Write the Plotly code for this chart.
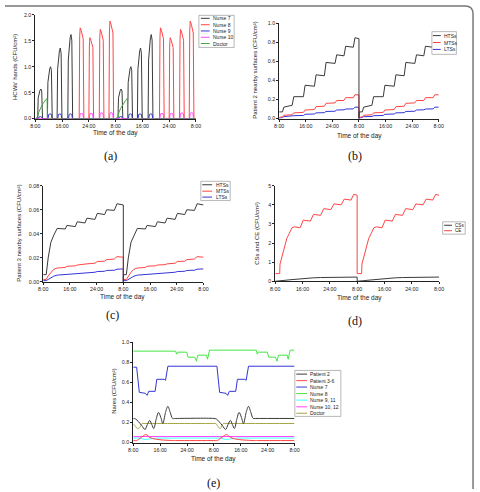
import plotly.graph_objects as go

W, H = 480, 492
TICK_VALS = [0, 8, 16, 24, 32, 40, 48]
TICK_TEXT = ["8:00", "16:00", "24:00", "8:00", "16:00", "24:00", "8:00"]

# ---------------- (a) HCWs' hands ----------------
A_N7_T = [0, 0.7, 0.85, 1.1, 1.4, 1.65, 1.9, 2.15, 3.6, 3.75, 4.0, 4.3, 4.55, 4.8, 5.05,
          6.5, 6.65, 6.9, 7.2, 7.45, 7.7, 7.95, 9.7, 9.85, 10.1, 10.4, 10.65, 10.9, 11.15,
          24.7, 24.85, 25.1, 25.4, 25.65, 25.9, 26.15, 27.6, 27.75, 28.0, 28.3, 28.55, 28.8, 29.05,
          30.5, 30.65, 30.9, 31.2, 31.45, 31.7, 31.95, 33.7, 33.85, 34.1, 34.4, 34.65, 34.9, 35.15, 48]
A_N7_V = [0, 0, 0.40, 0.50, 0.55, 0.57, 0.53, 0, 0, 0.70, 0.88, 0.96, 1.00, 0.93, 0,
          0, 0.95, 1.20, 1.31, 1.36, 1.26, 0, 0, 1.13, 1.43, 1.56, 1.62, 1.51, 0,
          0, 0.40, 0.50, 0.55, 0.57, 0.53, 0, 0, 0.70, 0.88, 0.96, 1.00, 0.93, 0,
          0, 0.95, 1.20, 1.31, 1.36, 1.26, 0, 0, 1.13, 1.43, 1.56, 1.62, 1.51, 0, 0]
A_N8_T = [0, 13.1, 13.25, 13.4, 13.7, 14.0, 14.3, 14.5, 16.0, 16.15, 16.3, 16.6, 16.9, 17.2, 17.4,
          19.1, 19.25, 19.4, 19.7, 20.0, 20.3, 20.5, 22.0, 22.15, 22.3, 22.6, 22.9, 23.2, 23.4,
          37.1, 37.25, 37.4, 37.7, 38.0, 38.3, 38.5, 40.0, 40.15, 40.3, 40.6, 40.9, 41.2, 41.4,
          43.1, 43.25, 43.4, 43.7, 44.0, 44.3, 44.5, 46.0, 46.15, 46.3, 46.6, 46.9, 47.2, 47.4, 48]
A_N8_V = [0, 0, 1.58, 1.75, 1.70, 1.63, 1.54, 0, 0, 1.40, 1.56, 1.51, 1.45, 1.37, 0,
          0, 1.55, 1.72, 1.67, 1.60, 1.51, 0, 0, 1.69, 1.88, 1.82, 1.75, 1.65, 0,
          0, 1.58, 1.75, 1.70, 1.63, 1.54, 0, 0, 1.40, 1.56, 1.51, 1.45, 1.37, 0,
          0, 1.55, 1.72, 1.67, 1.60, 1.51, 0, 0, 1.69, 1.88, 1.82, 1.75, 1.65, 0, 0]
A_N9_T = [0, 0.9, 1.1, 1.5, 1.9, 2.1, 3.8, 4.0, 4.4, 4.8, 5.0, 6.7, 6.9, 7.3, 7.7, 7.9,
          9.9, 10.1, 10.5, 10.9, 11.1, 24.9, 25.1, 25.5, 25.9, 26.1, 27.8, 28.0, 28.4, 28.8, 29.0,
          30.7, 30.9, 31.3, 31.7, 31.9, 33.9, 34.1, 34.5, 34.9, 35.1, 48]
A_N9_V = [0, 0, 0.03, 0.04, 0.03, 0, 0, 0.08, 0.09, 0.08, 0, 0, 0.08, 0.09, 0.08, 0,
          0, 0.08, 0.09, 0.08, 0, 0, 0.03, 0.04, 0.03, 0, 0, 0.08, 0.09, 0.08, 0,
          0, 0.08, 0.09, 0.08, 0, 0, 0.08, 0.09, 0.08, 0, 0]
A_N10_T = [0, 13.2, 13.4, 13.8, 14.2, 14.4, 16.1, 16.3, 16.7, 17.1, 17.3, 19.2, 19.4, 19.8, 20.2, 20.4,
           22.1, 22.3, 22.7, 23.1, 23.3, 37.2, 37.4, 37.8, 38.2, 38.4, 40.1, 40.3, 40.7, 41.1, 41.3,
           43.2, 43.4, 43.8, 44.2, 44.4, 46.1, 46.3, 46.7, 47.1, 47.3, 48]
A_N10_V = [0, 0, 0.09, 0.10, 0.09, 0, 0, 0.09, 0.10, 0.09, 0, 0, 0.10, 0.11, 0.10, 0,
           0, 0.10, 0.12, 0.10, 0, 0, 0.09, 0.10, 0.09, 0, 0, 0.09, 0.10, 0.09, 0,
           0, 0.10, 0.11, 0.10, 0, 0, 0.10, 0.12, 0.10, 0, 0]
A_DOC_T = [0, 0.7, 1.0, 1.5, 2.0, 2.5, 3.0, 3.5, 3.6, 24, 24.7, 25.0, 25.5, 26.0, 26.5, 27.0, 27.5, 27.6, 48]
A_DOC_V = [0, 0.03, 0.12, 0.20, 0.26, 0.31, 0.35, 0.39, 0, 0, 0.03, 0.12, 0.20, 0.26, 0.31, 0.35, 0.39, 0, 0]
A_NAMES = ["Nurse 7", "Nurse 8", "Nurse 9", "Nurse 10", "Doctor"]

# ---------------- (b) Patient 2 nearby surfaces ----------------
B_T = [0, 1.0, 1.4, 3.9, 4.4, 7.3, 7.8, 10.6, 11.1, 13.6, 14.1, 16.8, 17.3, 19.5, 20.0, 22.3, 22.8, 24.0,
       24.0, 24.05, 25.0, 25.4, 27.9, 28.4, 31.3, 31.8, 34.6, 35.1, 37.6, 38.1, 40.8, 41.3, 43.5, 44.0,
       46.3, 46.8, 48.0]
B_HTS = [0.07, 0.07, 0.12, 0.14, 0.23, 0.23, 0.35, 0.34, 0.46, 0.45, 0.59, 0.58, 0.67, 0.66, 0.76, 0.75, 0.85, 0.84,
         0.0, 0.07, 0.07, 0.12, 0.14, 0.23, 0.23, 0.35, 0.34, 0.46, 0.45, 0.59, 0.58, 0.67, 0.66, 0.76, 0.75, 0.85, 0.84]
B_MTS = [0.01, 0.02, 0.035, 0.04, 0.06, 0.065, 0.09, 0.095, 0.125, 0.13, 0.16, 0.165, 0.19, 0.19, 0.22, 0.22, 0.25, 0.25,
         0.0, 0.01, 0.02, 0.035, 0.04, 0.06, 0.065, 0.09, 0.095, 0.125, 0.13, 0.16, 0.165, 0.19, 0.19, 0.22, 0.22, 0.25, 0.25]
B_LTS = [0.005, 0.01, 0.02, 0.022, 0.03, 0.033, 0.045, 0.048, 0.06, 0.062, 0.075, 0.077, 0.09, 0.092, 0.10, 0.102, 0.12, 0.12,
         0.0, 0.005, 0.01, 0.02, 0.022, 0.03, 0.033, 0.045, 0.048, 0.06, 0.062, 0.075, 0.077, 0.09, 0.092, 0.10, 0.102, 0.12, 0.12]
SURF_NAMES = ["HTSs", "MTSs", "LTSs"]

# ---------------- (c) Patient 3 nearby surfaces ----------------
C_T = [0, 0.9, 1.5, 2.3, 3.2, 4.2, 6.6, 7.1, 9.6, 10.2, 12.5, 13.1, 15.5, 16.2, 18.4, 19.0, 21.3, 22.1, 24.0,
       24.0, 24.05, 24.9, 25.5, 26.3, 27.2, 28.2, 30.6, 31.1, 33.6, 34.2, 36.5, 37.1, 39.5, 40.2, 42.4, 43.0,
       45.3, 46.1, 48.0]
C_HTS = [0.006, 0.006, 0.02, 0.033, 0.039, 0.0445, 0.044, 0.047, 0.046, 0.050, 0.049, 0.053, 0.052, 0.057, 0.056,
         0.060, 0.0595, 0.065, 0.064,
         0.0, 0.006, 0.006, 0.02, 0.033, 0.039, 0.0445, 0.044, 0.047, 0.046, 0.050, 0.049, 0.053, 0.052, 0.057, 0.056,
         0.060, 0.0595, 0.065, 0.064]
C_MTS = [0.002, 0.002, 0.005, 0.008, 0.0105, 0.0115, 0.012, 0.013, 0.0133, 0.014, 0.0143, 0.015, 0.0155, 0.017,
         0.0172, 0.0185, 0.019, 0.021, 0.0205,
         0.0, 0.002, 0.002, 0.005, 0.008, 0.0105, 0.0115, 0.012, 0.013, 0.0133, 0.014, 0.0143, 0.015, 0.0155, 0.017,
         0.0172, 0.0185, 0.019, 0.021, 0.0205]
C_LTS = [0.001, 0.001, 0.002, 0.0035, 0.0048, 0.0056, 0.006, 0.0064, 0.0067, 0.007, 0.0073, 0.0077, 0.008, 0.0086,
         0.0088, 0.0095, 0.0097, 0.0105, 0.0108,
         0.0, 0.001, 0.001, 0.002, 0.0035, 0.0048, 0.0056, 0.006, 0.0064, 0.0067, 0.007, 0.0073, 0.0077, 0.008, 0.0086,
         0.0088, 0.0095, 0.0097, 0.0105, 0.0108]

# ---------------- (d) CSs and CE ----------------
D_T = [0, 1.3, 1.4, 2.0, 2.6, 3.4, 4.1, 4.9, 5.6, 7.3, 8.2, 10.3, 11.2, 13.3, 14.2, 16.3, 17.2, 19.3, 20.2, 22.2, 23.0, 24.0,
       24.0, 24.05, 25.3, 25.4, 26.0, 26.6, 27.4, 28.1, 28.9, 29.6, 31.3, 32.2, 34.3, 35.2, 37.3, 38.2, 40.3, 41.2,
       43.3, 44.2, 46.2, 47.0, 48.0]
D_CE = [0.4, 0.4, 0.9, 1.35, 1.8, 2.25, 2.5, 2.8, 2.85, 2.8, 3.2, 3.15, 3.5, 3.45, 3.8, 3.75, 4.05, 4.0, 4.3, 4.25, 4.55, 4.5,
        0.4, 0.4, 0.4, 0.9, 1.35, 1.8, 2.25, 2.5, 2.8, 2.85, 2.8, 3.2, 3.15, 3.5, 3.45, 3.8, 3.75, 4.05, 4.0, 4.3, 4.25,
        4.55, 4.5]
D_CS = [0.0, 0.01, 0.015, 0.03, 0.045, 0.06, 0.075, 0.09, 0.1, 0.13, 0.145, 0.17, 0.18, 0.195, 0.2, 0.205, 0.21, 0.215,
        0.215, 0.22, 0.22, 0.22,
        0.0, 0.0, 0.01, 0.015, 0.03, 0.045, 0.06, 0.075, 0.09, 0.1, 0.13, 0.145, 0.17, 0.18, 0.195, 0.2, 0.205, 0.21,
        0.215, 0.215, 0.22, 0.22, 0.22]
D_NAMES = ["CSs", "CE"]

# ---------------- (e) Nares ----------------
E_P2_T = [0, 0.7, 1.5, 2.5, 3.5, 4.2, 4.9, 5.5, 6.1, 6.8, 7.5, 8.2, 8.8, 9.6, 10.3, 11.0, 11.7, 12.3, 24.0,
          24.7, 25.5, 26.5, 27.5, 28.2, 28.9, 29.5, 30.1, 30.8, 31.5, 32.2, 32.8, 33.6, 34.3, 35.0, 35.7, 36.3, 48]
E_P2_V = [0.24, 0.235, 0.21, 0.17, 0.13, 0.18, 0.22, 0.18, 0.14, 0.23, 0.30, 0.25, 0.19, 0.30, 0.36, 0.30, 0.24, 0.24,
          0.24, 0.235, 0.21, 0.17, 0.13, 0.18, 0.22, 0.18, 0.14, 0.23, 0.30, 0.25, 0.19, 0.30, 0.36, 0.30, 0.24, 0.24, 0.24]
E_P36_T = [0, 1.0, 1.5, 2.7, 3.8, 5.0, 6.5, 9.0, 12.0, 13.0, 24.0, 25.0, 25.5, 26.7, 27.8, 29.0, 30.5, 33.0, 36.0, 37.0, 48]
E_P36_V = [0.02, 0.02, 0.03, 0.06, 0.08, 0.05, 0.035, 0.025, 0.02, 0.02, 0.02, 0.02, 0.03, 0.06, 0.08, 0.05, 0.035,
           0.025, 0.02, 0.02, 0.02]
E_N7_T = [0, 1.0, 1.8, 3.6, 4.1, 4.6, 6.5, 7.0, 9.2, 9.6, 10.3, 24.9, 25.7, 27.6, 28.1, 28.6, 30.5, 31.0, 33.2, 33.6, 34.3, 48]
E_N7_V = [0.75, 0.75, 0.50, 0.49, 0.47, 0.51, 0.51, 0.63, 0.63, 0.62, 0.76, 0.76, 0.50, 0.49, 0.47, 0.51, 0.51, 0.63,
          0.63, 0.62, 0.76, 0.76]
E_N8_T = [0, 12.6, 12.9, 13.2, 15.9, 16.3, 18.3, 18.8, 19.2, 21.8, 22.1, 22.7, 36.6, 36.9, 37.2, 39.9, 40.3, 42.3,
          42.8, 43.2, 45.8, 46.1, 46.7, 48]
E_N8_V = [0.91, 0.91, 0.88, 0.90, 0.90, 0.85, 0.85, 0.81, 0.87, 0.87, 0.83, 0.92, 0.92, 0.88, 0.90, 0.90, 0.85, 0.85,
          0.81, 0.87, 0.87, 0.83, 0.92, 0.92]
E_N911_T = [0, 2.0, 3.5, 5.5, 7.0, 24.0, 26.0, 27.5, 29.5, 31.0, 48]
E_N911_V = [0.045, 0.045, 0.03, 0.035, 0.045, 0.045, 0.045, 0.03, 0.035, 0.045, 0.045]
E_N1012_T = [0, 48]
E_N1012_V = [0.06, 0.06]
E_DOC_T = [0, 0.5, 1.2, 1.9, 2.6, 3.2, 24.0, 24.6, 25.2, 25.9, 26.8, 27.4, 48]
E_DOC_V = [0.18, 0.17, 0.14, 0.15, 0.19, 0.19, 0.19, 0.19, 0.16, 0.14, 0.19, 0.19, 0.19]
E_NAMES = ["Patient 2", "Patient 3-6", "Nurse 7", "Nurse 8", "Nurse 9, 11", "Nurse 10, 12", "Doctor"]

# ---------------- styling ----------------
C_BLK, C_RED, C_BLU, C_MAG, C_GRN = "#3a3a3a", "#ff4545", "#3535d5", "#ff45ff", "#45a545"
C_LGRN, C_CYN, C_OLV = "#45e545", "#45ffff", "#a5a545"
SANS = "Liberation Sans, Arial, sans-serif"
SERIF = "Liberation Serif, Times New Roman, serif"


def fx(px):
    return px / W


def fy(py):
    return 1 - py / H


# panel pixel boxes: (left, right, top, bottom)
PANELS = {
    "a": dict(box=(31, 195, 12, 117), yr=[0, 2.0], dtick=0.5, fmt=".1f"),
    "b": dict(box=(280, 443, 20.7, 117), yr=[0, 1.0], dtick=0.2, fmt=".1f"),
    "c": dict(box=(39, 202.7, 185, 282.3), yr=[0, 0.08], dtick=0.02, fmt=".2f"),
    "d": dict(box=(276, 443.3, 185, 281.7), yr=[0, 5], dtick=1, fmt="d"),
    "e": dict(box=(131, 295.7, 343.3, 445), yr=[0, 1.0], dtick=0.2, fmt=".1f"),
}
AX = {"a": ("x", "y", "xaxis", "yaxis"), "b": ("x2", "y2", "xaxis2", "yaxis2"),
      "c": ("x3", "y3", "xaxis3", "yaxis3"), "d": ("x4", "y4", "xaxis4", "yaxis4"),
      "e": ("x5", "y5", "xaxis5", "yaxis5")}

fig = go.Figure()


def add(p, t, v, color, name, shape="linear"):
    xa, ya, _, _ = AX[p]
    fig.add_trace(go.Scatter(x=t, y=v, mode="lines", name=name, xaxis=xa, yaxis=ya,
                             line=dict(color=color, width=1, shape=shape), showlegend=False,
                             hoverinfo="skip"))


add("a", A_N7_T, A_N7_V, C_BLK, A_NAMES[0])
add("a", A_N8_T, A_N8_V, C_RED, A_NAMES[1])
add("a", A_N9_T, A_N9_V, C_BLU, A_NAMES[2])
add("a", A_N10_T, A_N10_V, C_MAG, A_NAMES[3])
add("a", A_DOC_T, A_DOC_V, C_GRN, A_NAMES[4])

add("b", B_T, B_LTS, C_BLU, SURF_NAMES[2])
add("b", B_T, B_MTS, C_RED, SURF_NAMES[1])
add("b", B_T, B_HTS, C_BLK, SURF_NAMES[0])

add("c", C_T, C_LTS, C_BLU, SURF_NAMES[2])
add("c", C_T, C_MTS, C_RED, SURF_NAMES[1])
add("c", C_T, C_HTS, C_BLK, SURF_NAMES[0])

add("d", D_T, D_CS, C_BLK, D_NAMES[0])
add("d", D_T, D_CE, C_RED, D_NAMES[1])

add("e", E_N911_T, E_N911_V, C_CYN, E_NAMES[4])
add("e", E_N1012_T, E_N1012_V, C_MAG, E_NAMES[5])
add("e", E_P36_T, E_P36_V, C_RED, E_NAMES[1], "spline")
add("e", E_DOC_T, E_DOC_V, C_OLV, E_NAMES[6], "spline")
add("e", E_P2_T, E_P2_V, C_BLK, E_NAMES[0], "spline")
add("e", E_N7_T, E_N7_V, C_BLU, E_NAMES[2])
add("e", E_N8_T, E_N8_V, C_LGRN, E_NAMES[3])

layout = dict(width=W, height=H, margin=dict(l=0, r=0, t=0, b=0),
              paper_bgcolor="white", plot_bgcolor="white", showlegend=False,
              font=dict(family=SANS, color="#222"))
for p, cfg in PANELS.items():
    l, r, t, b = cfg["box"]
    xa, ya, xk, yk = AX[p]
    layout[xk] = dict(domain=[fx(l), fx(r)], range=[0, 48], anchor=ya, tickvals=TICK_VALS,
                      ticktext=TICK_TEXT, showline=True, linecolor="#222", linewidth=1,
                      ticks="outside", ticklen=2, tickwidth=0.8, tickcolor="#222",
                      tickfont=dict(size=5.3, family=SANS, color="#222"), showgrid=False,
                      zeroline=False, fixedrange=True)
    layout[yk] = dict(domain=[fy(b), fy(t)], range=cfg["yr"], anchor=xa, dtick=cfg["dtick"],
                      tick0=0, tickformat=cfg["fmt"], showline=True, linecolor="#222",
                      linewidth=1, ticks="outside", ticklen=2, tickwidth=0.8, tickcolor="#222",
                      tickfont=dict(size=5.3, family=SANS, color="#222"), showgrid=False,
                      zeroline=False, fixedrange=True)
fig.update_layout(**layout)

annotations = []
shapes = []

# axis titles
XTITLES = [(113, 132), (362, 135), (120, 298), (362, 299), (213, 462)]
for (x, y) in XTITLES:
    annotations.append(dict(x=fx(x), y=fy(y), xref="paper", yref="paper", text="Time of the day",
                            showarrow=False, font=dict(size=6.5, family=SANS, color="#222"),
                            xanchor="center", yanchor="middle"))
YTITLES = [(10, 65, "HCWs' hands (CFU/cm²)"),
           (256, 68, "Patient 2 nearby surfaces (CFU/cm²)"),
           (14, 233, "Patient 3 nearby surfaces (CFU/cm²)"),
           (258, 233, "CSs and CE (CFU/cm²)"),
           (112, 393, "Nares (CFU/cm²)")]
for (x, y, txt) in YTITLES:
    annotations.append(dict(x=fx(x), y=fy(y), xref="paper", yref="paper", text=txt, textangle=-90,
                            showarrow=False, font=dict(size=6, family=SANS, color="#222"),
                            xanchor="center", yanchor="middle"))
PLABELS = [(108, 155, "(a)"), (357, 155, "(b)"), (110, 316, "(c)"), (357, 322, "(d)"), (213, 486, "(e)")]
for (x, y, txt) in PLABELS:
    annotations.append(dict(x=fx(x), y=fy(y), xref="paper", yref="paper", text=txt,
                            showarrow=False, font=dict(size=12, family=SERIF, color="#111"),
                            xanchor="center", yanchor="middle"))


def legend(box, rows, names, colors, line_x, text_x, fs=5):
    l, r, t, b = box
    shapes.append(dict(type="rect", xref="paper", yref="paper", x0=fx(l), x1=fx(r), y0=fy(b), y1=fy(t),
                       line=dict(color="#888", width=0.6), fillcolor="white"))
    for yy, nm, col in zip(rows, names, colors):
        shapes.append(dict(type="line", xref="paper", yref="paper", x0=fx(line_x[0]), x1=fx(line_x[1]),
                           y0=fy(yy), y1=fy(yy), line=dict(color=col, width=1)))
        annotations.append(dict(x=fx(text_x), y=fy(yy), xref="paper", yref="paper", text=nm,
                                showarrow=False, font=dict(size=fs, family=SANS, color="#222"),
                                xanchor="left", yanchor="middle"))


legend((198, 234, 12.5, 45), [15.5, 22, 28.3, 34.7, 41], A_NAMES,
       [C_BLK, C_RED, C_BLU, C_MAG, C_GRN], (200, 209), 210.5)
legend((436, 461, 29, 52), [33, 40, 47], SURF_NAMES, [C_BLK, C_RED, C_BLU], (437, 445), 446)
legend((200, 230, 180.5, 200), [184, 190.5, 196.5], SURF_NAMES, [C_BLK, C_RED, C_BLU], (201.5, 211.5), 213)
legend((447, 470, 221.5, 234), [225, 230.5], D_NAMES, [C_BLK, C_RED], (448.5, 456.5), 458, fs=4.6)
legend((296, 343, 372, 418.5), [375.7, 382.3, 388.8, 395.4, 402, 408.8, 415.3], E_NAMES,
       [C_BLK, C_RED, C_BLU, C_LGRN, C_CYN, C_MAG, C_OLV], (297.5, 308.5), 309.5, fs=5)

# outer frame (top and right edge with rounded corner)
yt, xr = fy(3), fx(478)
shapes.append(dict(type="path", xref="paper", yref="paper",
                   path=f"M 0,{yt} L {fx(470)},{yt} Q {xr},{yt} {xr},{fy(11)} L {xr},0",
                   line=dict(color="#777", width=1.5)))

fig.update_layout(annotations=annotations, shapes=shapes)
fig.write_html("out.html")
